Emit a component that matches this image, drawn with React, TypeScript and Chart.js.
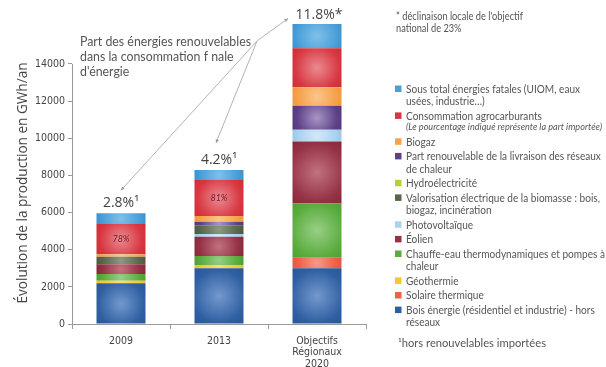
import React, { useEffect, useRef } from 'react';
import { Chart, registerables } from 'chart.js';

Chart.register(...registerables);

// ---- data ----
const categories = [['2009'], ['2013'], ['Objectifs', 'Régionaux', '2020']];
const yTicks = [0, 2000, 4000, 6000, 8000, 10000, 12000, 14000];
const shareLabels = ['2.8%¹', '4.2%¹', '11.8%*'];
const importedShare = ['78%', '81%', ''];

// stacked bottom-up
const boisEnergie = [2190, 3000, 3000];
const solaireThermique = [0, 0, 570];
const geothermie = [140, 180, 0];
const chauffeEau = [360, 480, 2930];
const eolien = [520, 1040, 3320];
const photovoltaique = [0, 140, 630];
const valorisationBiomasse = [410, 480, 0];
const hydroelectricite = [0, 0, 0];
const reseauxChaleur = [0, 180, 1290];
const biogaz = [130, 310, 1000];
const agrocarburants = [1630, 1940, 2100];
const sousTotalFatales = [580, 540, 1310];

const seriesLabels = [
  'Bois énergie (résidentiel et industrie) - hors\nréseaux',
  'Solaire thermique',
  'Géothermie',
  'Chauffe-eau thermodynamiques et pompes à\nchaleur',
  'Éolien',
  'Photovoltaïque',
  'Valorisation électrique de la biomasse : bois,\nbiogaz, incinération',
  'Hydroélectricité',
  'Part renouvelable de la livraison des réseaux\nde chaleur',
  'Biogaz',
  'Consommation agrocarburants',
  'Sous total énergies fatales (UIOM, eaux\nusées, industrie…)',
];
const agroNote = '(Le pourcentage indiqué représente la part importée)';
const annotationLines = ['Part des énergies renouvelables', 'dans la consommation f nale', "d'énergie"];
const starNote = ["* déclinaison locale de l'objectif", 'national de 23%'];
const footNote = '¹hors renouvelables importées';
const yTitle = 'Évolution de la production en GWh/an';

const seriesValues = [
  boisEnergie, solaireThermique, geothermie, chauffeEau, eolien, photovoltaique,
  valorisationBiomasse, hydroelectricite, reseauxChaleur, biogaz, agrocarburants, sousTotalFatales,
];

const baseColors = ['#2f5fa3', '#f0604a', '#f5c72e', '#5aac3e', '#953246', '#a9d3ef', '#58664c', '#b3d334', '#5d4289', '#f5a24a', '#d83640', '#4a9fd8'];
const edgeColors = ['#2a5797', '#ea5444', '#f2c020', '#4d9f34', '#86283a', '#98c8e8', '#4c5a42', '#a3c62c', '#52387c', '#f09638', '#cf2c38', '#3b90cf'];
const centerColors = ['#7499cc', '#f89a8a', '#f9de78', '#98cf86', '#c2727f', '#d2e9f8', '#8e9a84', '#d2e882', '#a896c4', '#fac68a', '#ea8a90', '#80c0ea'];

const FONT_TEXT = 'Lato, "Open Sans", sans-serif';
const FONT_AXIS = '"DejaVu Sans Condensed", "DejaVu Sans", sans-serif';
const FONT_TITLE = '"Open Sans", "Noto Sans", sans-serif';

function gradientFor(ctx: any) {
  const d = ctx.datasetIndex;
  const i = ctx.dataIndex;
  const chart = ctx.chart;
  if (ctx.type !== 'data' || !chart.chartArea) return baseColors[d];
  const xs = chart.scales.x;
  const ys = chart.scales.y;
  let below = 0;
  for (let k = 0; k < d; k++) below += seriesValues[k][i];
  const v = seriesValues[d][i];
  if (!v) return baseColors[d];
  const cx = xs.getPixelForValue(i);
  const yTop = ys.getPixelForValue(below + v);
  const yBot = ys.getPixelForValue(below);
  const cy = (yTop + yBot) / 2;
  const halfW = 25;
  const halfH = Math.abs(yBot - yTop) / 2;
  const r = Math.sqrt(halfW * halfW + halfH * halfH);
  const g = chart.ctx.createRadialGradient(cx, cy, 0, cx, cy, r);
  g.addColorStop(0, centerColors[d]);
  g.addColorStop(0.72, baseColors[d]);
  g.addColorStop(1, edgeColors[d]);
  return g;
}

function drawArrow(c: CanvasRenderingContext2D, x0: number, y0: number, x1: number, y1: number) {
  c.beginPath();
  c.moveTo(x0, y0);
  c.lineTo(x1, y1);
  c.stroke();
  const a = Math.atan2(y1 - y0, x1 - x0);
  const s = 4;
  c.beginPath();
  c.moveTo(x1, y1);
  c.lineTo(x1 - s * Math.cos(a - 0.45), y1 - s * Math.sin(a - 0.45));
  c.lineTo(x1 - s * Math.cos(a + 0.45), y1 - s * Math.sin(a + 0.45));
  c.closePath();
  c.fill();
}

// draw text squeezed horizontally by sx
function textScaled(c: CanvasRenderingContext2D, t: string, x: number, y: number, sx: number) {
  c.save();
  c.translate(x, y);
  c.scale(sx, 1);
  c.fillText(t, 0, 0);
  c.restore();
}

function fitScale(c: CanvasRenderingContext2D, t: string, target: number) {
  const w = c.measureText(t).width;
  return w > 0 ? target / w : 1;
}

const overlayPlugin = {
  id: 'overlay',
  afterDatasetsDraw(chart: any) {
    const c = chart.ctx as CanvasRenderingContext2D;
    const xs = chart.scales.x;
    const ys = chart.scales.y;
    c.save();
    const agroIdx = seriesValues.indexOf(agrocarburants);
    c.font = `italic 9px ${FONT_TEXT}`;
    c.fillStyle = '#6e2232';
    c.textAlign = 'center';
    c.textBaseline = 'middle';
    importedShare.forEach((t, i) => {
      if (!t) return;
      let below = 0;
      for (let k = 0; k < agroIdx; k++) below += seriesValues[k][i];
      const y = ys.getPixelForValue(below + agrocarburants[i] / 2);
      c.fillText(t, xs.getPixelForValue(i), y);
    });
    c.restore();
  },
  afterDraw(chart: any) {
    const c = chart.ctx as CanvasRenderingContext2D;
    const xs = chart.scales.x;
    const ys = chart.scales.y;
    const area = chart.chartArea;
    c.save();
    // y axis line (0 .. last tick)
    c.strokeStyle = '#9a9a9a';
    c.lineWidth = 1;
    const ax = Math.round(area.left) + 0.5;
    c.beginPath();
    c.moveTo(ax, ys.getPixelForValue(yTicks[yTicks.length - 1]));
    c.lineTo(ax, ys.getPixelForValue(0));
    c.stroke();

    // y axis title
    c.save();
    c.fillStyle = '#444';
    c.font = `14px ${FONT_TITLE}`;
    c.textAlign = 'center';
    c.textBaseline = 'middle';
    const tsx = fitScale(c, yTitle, 241);
    c.translate(23, 183);
    c.rotate(-Math.PI / 2);
    c.scale(tsx, 1);
    c.fillText(yTitle, 0, 0);
    c.restore();

    // totals
    const totals = categories.map((_, i) => seriesValues.reduce((s, arr) => s + arr[i], 0));
    const labelPos = totals.map((t, i) => ({ x: xs.getPixelForValue(i) + (i === 2 ? 2 : 0), y: ys.getPixelForValue(t) - (i === 2 ? 8.5 : 10) }));

    c.fillStyle = '#444';
    c.textAlign = 'center';
    c.textBaseline = 'middle';
    c.font = `14px ${FONT_TITLE}`;
    shareLabels.forEach((t, i) => {
      c.fillText(t, labelPos[i].x, labelPos[i].y);
    });

    // annotation text
    c.textAlign = 'left';
    c.font = `14px ${FONT_TEXT}`;
    c.fillStyle = '#555';
    const tx = area.left + 8;
    const asx = fitScale(c, annotationLines[0], 171);
    annotationLines.forEach((l, k) => textScaled(c, l, tx, 41 + k * 15, asx));
    const ox = tx + 177;
    const oy = 41;
    c.strokeStyle = '#b4b4b4';
    c.fillStyle = '#9a9a9a';
    c.lineWidth = 1;
    drawArrow(c, ox, oy, labelPos[0].x, labelPos[0].y - 13);
    drawArrow(c, ox, oy, labelPos[1].x - 3, labelPos[1].y - 17);
    drawArrow(c, ox, oy, labelPos[2].x - 31, labelPos[2].y + 3);

    // star note
    c.fillStyle = '#555';
    c.font = `10.5px ${FONT_TEXT}`;
    const ssx = fitScale(c, starNote[0], 127);
    starNote.forEach((l, k) => textScaled(c, l, 396, 17 + k * 12, ssx));

    // legend (top of stack first)
    const lx = 395;
    const textX = 406;
    const lineH = 12.3;
    const gap = 2.3;
    c.font = `12px ${FONT_TEXT}`;
    const lsx = fitScale(c, 'Valorisation électrique de la biomasse : bois,', 194);
    let y = 89;
    for (let d = seriesLabels.length - 1; d >= 0; d--) {
      const lines = seriesLabels[d].split('\n');
      c.fillStyle = baseColors[d];
      c.fillRect(lx, y - 3.5, 6.5, 6.5);
      c.fillStyle = '#555';
      c.font = `12px ${FONT_TEXT}`;
      lines.forEach((l, k) => textScaled(c, l, textX, y + k * lineH, lsx));
      y += lines.length * lineH;
      if (seriesValues[d] === agrocarburants) {
        c.font = `italic 9px ${FONT_TEXT}`;
        const nsx = fitScale(c, agroNote, 196);
        textScaled(c, agroNote, textX, y - 1, nsx);
        y += lineH - 1;
      }
      y += gap;
    }
    c.font = `10.5px ${FONT_TEXT}`;
    const fsx = fitScale(c, footNote, 148);
    textScaled(c, footNote, 398, 344, fsx);
    c.restore();
  },
};

export default function App() {
  const ref = useRef<HTMLCanvasElement>(null);
  useEffect(() => {
    document.body.style.margin = '0';
    const canvas = ref.current!;
    const chart = new Chart(canvas, {
      type: 'bar',
      data: {
        labels: categories as any,
        datasets: seriesValues.map((vals, d) => ({
          label: seriesLabels[d],
          data: vals,
          backgroundColor: gradientFor as any,
          borderWidth: 0,
          barPercentage: 0.5,
          categoryPercentage: 1,
        })),
      },
      options: {
        responsive: false,
        animation: false,
        devicePixelRatio: 1,
        layout: { padding: { left: 0, right: 240, top: 23, bottom: 0 } },
        plugins: { legend: { display: false }, tooltip: { enabled: false } },
        scales: {
          x: {
            stacked: true,
            grid: { offset: true, drawOnChartArea: false, drawTicks: true, tickLength: 5, color: '#9a9a9a' },
            border: { color: '#9a9a9a' },
            ticks: { color: '#444', font: { family: FONT_AXIS, size: 10.5, lineHeight: 1.1 }, padding: 6, maxRotation: 0 },
            afterFit: (s: any) => { s.height = 43; },
          },
          y: {
            stacked: true,
            min: 0,
            max: 16200,
            afterBuildTicks: (s: any) => { s.ticks = yTicks.map((v) => ({ value: v })); },
            grid: { drawOnChartArea: false, drawTicks: true, tickLength: 4, color: '#9a9a9a' },
            border: { display: false },
            ticks: { color: '#444', font: { family: FONT_AXIS, size: 10.5 }, padding: 3, callback: (v: any) => String(v) },
            afterFit: (s: any) => { s.width = 72; },
          },
        },
      },
      plugins: [overlayPlugin],
    });
    return () => chart.destroy();
  }, []);
  return <canvas ref={ref} width={606} height={367} style={{ display: 'block' }} />;
}
